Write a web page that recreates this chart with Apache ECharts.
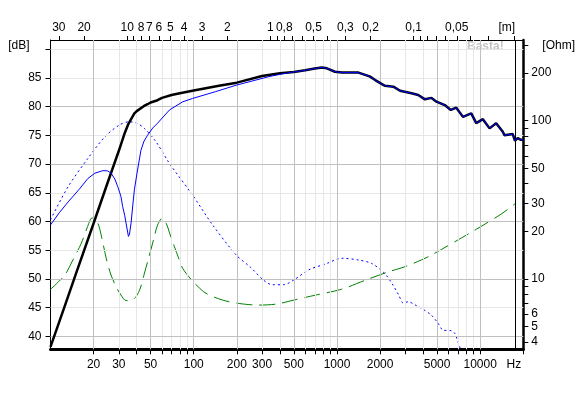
<!DOCTYPE html>
<html><head><meta charset="utf-8">
<script src="https://cdn.jsdelivr.net/npm/echarts@6/dist/echarts.min.js"></script>
<style>html,body{margin:0;padding:0;background:#fff}#c{width:578px;height:393px}</style>
</head><body><div id="c"></div>
<script>
// ---------- axis ticks / labels ----------
const freqTicks = [20,30,40,50,60,70,80,90,100,200,300,400,500,600,700,800,900,1000,2000,3000,4000,5000,6000,7000,8000,9000,10000,20000];
const freqLabels = [20,30,50,100,200,300,500,1000,2000,5000,10000,20000];
const gridMajorFreq = [20,50,100,200,500,1000,2000,5000,10000];
const gridMinorFreq = [30,40,60,70,80,90,300,400,600,700,800,900,3000,4000,6000,7000,8000,9000];
const dbTicks = [40,45,50,55,60,65,70,75,80,85,90];
const dbLabels = [40,45,50,55,60,65,70,75,80,85,90];
const gridMajorDb = [40,50,60,70,80];
const gridMinorDb = [45,55,65,75,85,90];
const ohmTicks = [4,5,6,7,8,9,10,20,30,40,50,60,70,80,90,100,200,300];
const ohmLabels = [4,5,6,10,20,30,50,100,200,300];
const wavelengthTicks = [30,20,10,9,8,7,6,5,4,3,2,1,0.9,0.8,0.7,0.6,0.5,0.4,0.3,0.2,0.1,0.09,0.08,0.07,0.06,0.05,0.04,0.03,0.02];
const wavelengthLabelValues = [30,20,10,8,7,6,5,4,3,2,1,0.8,0.5,0.3,0.2,0.1,0.05,0.02];
const wavelengthLabels = ['30','20','10','8','7','6','5','4','3','2','1','0,8','0,5','0,3','0,2','0,1','0,05','[m]'];
const soundSpeed = 343;
const markerFreq = 17700;

// ---------- series data ----------
// black (total SPL), low part
const blackLowFreq = [10,12.5,15,20,25,30,33,35,38.5,40,45,47.6,50,55.9,60,70,80,100,150,200,300,400];
const blackLowDb   = [38.2,45.1,50.8,59.7,66.7,72.3,75.4,77.0,78.8,79.2,80.1,80.4,80.7,81.1,81.5,82.0,82.3,82.8,83.6,84.15,85.3,85.8];
// blue solid (driver SPL), low part
const blueLowFreq = [10,11.5,13.27,15.8,18.27,20.4,23.2,25.1,26.5,28.1,29.5,31,31.9,33,33.7,35,35.6,36.5,37.5,38.5,40.3,42.8,45,47.6,51.7,55.9,67.7,83.5,98.1,142.6,197.5,335,420];
const blueLowDb   = [59.4,61.5,63.4,65.55,67.5,68.4,68.85,68.8,68.4,67.4,66.05,64.4,62.6,61.0,59.7,57.4,57.8,59.7,62.7,65.5,68.6,72.4,74.0,75.0,76.25,77.1,79.4,80.8,81.4,82.6,83.7,85.2,85.7];
// shared high-frequency part (black and blue solid coincide)
const highFreq = [500,600,700,785,850,968,1083,1412,1690,1850,2060,2168,2477,2756,3318,3692,4110,4570,4950,5660,6230,6810,7580,8660,9380,10440,11620,12920,14380,14770,16870,17500,18270,19270,20000];
const highDb   = [86.0,86.3,86.6,86.8,86.65,86.05,85.9,85.9,85.25,84.6,83.9,83.6,83.45,82.75,82.3,82.0,81.25,81.5,80.85,80.25,79.4,79.8,78.2,78.8,77.1,77.8,76.2,77.1,75.6,75.0,75.2,74.05,74.5,74.2,74.2];
// blue dotted (port / other SPL)
const dottedFreq = [10,13.27,18.27,23.9,30.3,35.6,40,45.2,54.4,67.7,98.1,135.5,197.5,250,307,354,424,498,636,830,1083,1412,1748,2144,2410,2700,2905,3148,3503,3890,4567,5083,5508,6290,6637,7190,7500];
const dottedDb   = [60.3,66.05,71.0,74.7,76.8,77.35,77.1,76.2,73.9,70.1,64.6,59.4,54.2,52.0,49.8,49.0,49.0,49.8,51.6,52.6,53.6,53.3,52.7,51.0,49.3,47.2,45.8,46.05,45.5,44.9,43.7,42.3,41.1,41.0,40.55,38.2,37.0];
// green dashed (impedance, Ohm)
const greenFreq = [10,12.6,14.1,16.4,18.0,19.5,21.4,22.8,24.5,26.3,28.7,31.0,33.7,36.3,39.5,42.4,45.3,48.9,53.1,55.9,60.2,64.2,68.5,73.3,78.3,83.6,95.6,106.8,121.7,158.9,207.6,285,381,500,718,1076,1548,2286,2985,4340,6470,9380,13990,17700];
const greenOhm  = [8.6,10.6,12.8,16.8,21.0,24.3,22.5,18.2,13.5,10.75,8.94,7.93,7.3,7.3,7.72,8.77,10.9,14.0,18.5,21.9,24.2,22.5,19.0,16.0,13.6,11.7,9.96,8.97,8.12,7.36,7.0,6.84,6.95,7.36,7.93,8.61,9.76,11.1,11.96,13.83,16.95,20.6,25.7,30.1];

const pairs = (xs, ys) => xs.map((x, i) => [x, ys[i]]);
const FONT = 'Liberation Sans';
const txt = {fontFamily: FONT, fontSize: 12, color: '#000'};

const wlFormatter = (v) => {
  const lam = soundSpeed / v;
  let best = 0, bd = Infinity;
  wavelengthLabelValues.forEach((l, i) => { const d = Math.abs(Math.log(lam) - Math.log(l)); if (d < bd) { bd = d; best = i; } });
  return best === wavelengthLabels.length - 1 ? '{m|' + wavelengthLabels[best] + '}' : wavelengthLabels[best];
};

const gridLines = [];
gridMinorFreq.forEach(f => gridLines.push({xAxis: f, lineStyle: {color: '#e6e6e6', width: 1, type: 'solid'}}));
gridMinorDb.forEach(d => gridLines.push({yAxis: d, lineStyle: {color: '#e6e6e6', width: 1, type: 'solid'}}));
gridMajorFreq.forEach(f => gridLines.push({xAxis: f, lineStyle: {color: '#c0c0c0', width: 1, type: 'solid'}}));
gridMajorDb.forEach(d => gridLines.push({yAxis: d, lineStyle: {color: '#c0c0c0', width: 1, type: 'solid'}}));
gridLines.push({xAxis: markerFreq, lineStyle: {color: '#000', width: 1, type: 'solid'}});

const chart = echarts.init(document.getElementById('c'), null, {renderer: 'canvas'});
chart.setOption({
  animation: false,
  backgroundColor: '#fff',
  grid: {left: 50.5, right: 52.5, top: 40, bottom: 43.7, containLabel: false},
  xAxis: [
    {type: 'log', logBase: 10, min: 10, max: 20000, position: 'bottom',
     axisLine: {show: true, lineStyle: {color: '#000', width: 3}},
     axisTick: {show: true, inside: false, length: 5, lineStyle: {color: '#000'}, customValues: freqTicks},
     axisLabel: {...txt, margin: 9, customValues: freqLabels,
       formatter: v => v >= 19999 ? '{hz|Hz}' : String(Math.round(v)),
       rich: {hz: {...txt, padding: [0, 19, 0, 0]}}},
     splitLine: {show: false}, minorTick: {show: false}},
    {type: 'log', logBase: 10, min: 10, max: 20000, position: 'top',
     axisLine: {show: true, lineStyle: {color: '#000', width: 1}},
     axisTick: {show: true, inside: false, length: 4, lineStyle: {color: '#000'}, customValues: wavelengthTicks.map(l => soundSpeed / l)},
     axisLabel: {...txt, margin: 6, customValues: wavelengthLabelValues.map(l => soundSpeed / l), formatter: wlFormatter,
       rich: {m: {...txt, padding: [0, 14, 0, 0]}}},
     splitLine: {show: false}}
  ],
  yAxis: [
    {type: 'value', min: 37.77, max: 91.57, position: 'left',
     axisLine: {show: true, lineStyle: {color: '#000', width: 1}},
     axisTick: {show: true, inside: false, length: 5, lineStyle: {color: '#000'}, customValues: dbTicks},
     axisLabel: {...txt, margin: 9, customValues: dbLabels,
       formatter: v => Math.round(v) === 90 ? '{u|[dB]}' : String(Math.round(v)),
       rich: {u: {...txt, padding: [0, 12, 7, 0]}}},
     splitLine: {show: false}},
    {type: 'log', logBase: 10, min: 3.595, max: 323.6, position: 'right',
     axisLine: {show: true, lineStyle: {color: '#000', width: 2.5}},
     axisTick: {show: true, inside: false, length: 5, lineStyle: {color: '#000'}, customValues: ohmTicks},
     axisLabel: {...txt, margin: 8, customValues: ohmLabels,
       formatter: v => Math.round(v) === 300 ? '{u|[Ohm]}' : String(Math.round(v)),
       rich: {u: {...txt, padding: [0, 0, 0, 11]}}},
     splitLine: {show: false}}
  ],
  graphic: [{type: 'text', left: 467, top: 41, z: 0,
    style: {text: 'Basta!', fill: '#c4c4c4', font: 'bold 12px "Liberation Sans"'}}],
  series: [
    {name: 'grid', type: 'line', xAxisIndex: 0, yAxisIndex: 0, data: [], z: 1, silent: true,
     markLine: {silent: true, symbol: ['none', 'none'], label: {show: false}, animation: false, data: gridLines}},
    {name: 'impedance', type: 'line', xAxisIndex: 0, yAxisIndex: 1, data: pairs(greenFreq, greenOhm),
     showSymbol: false, smooth: 0.3, z: 3, lineStyle: {color: '#008000', width: 1, type: [16, 7]}},
    {name: 'dotted', type: 'line', xAxisIndex: 0, yAxisIndex: 0, data: pairs(dottedFreq, dottedDb),
     showSymbol: false, smooth: 0.3, z: 4, lineStyle: {color: '#0000ff', width: 1, type: [2, 3]}},
    {name: 'total', type: 'line', xAxisIndex: 0, yAxisIndex: 0, data: pairs(blackLowFreq.concat(highFreq), blackLowDb.concat(highDb)),
     showSymbol: false, smooth: false, z: 5, lineStyle: {color: '#000', width: 2.5}},
    {name: 'driver', type: 'line', xAxisIndex: 0, yAxisIndex: 0, data: pairs(blueLowFreq.concat(highFreq), blueLowDb.concat(highDb)),
     showSymbol: false, smooth: false, z: 6, lineStyle: {color: '#0000ff', width: 1}}
  ]
});
</script></body></html>
